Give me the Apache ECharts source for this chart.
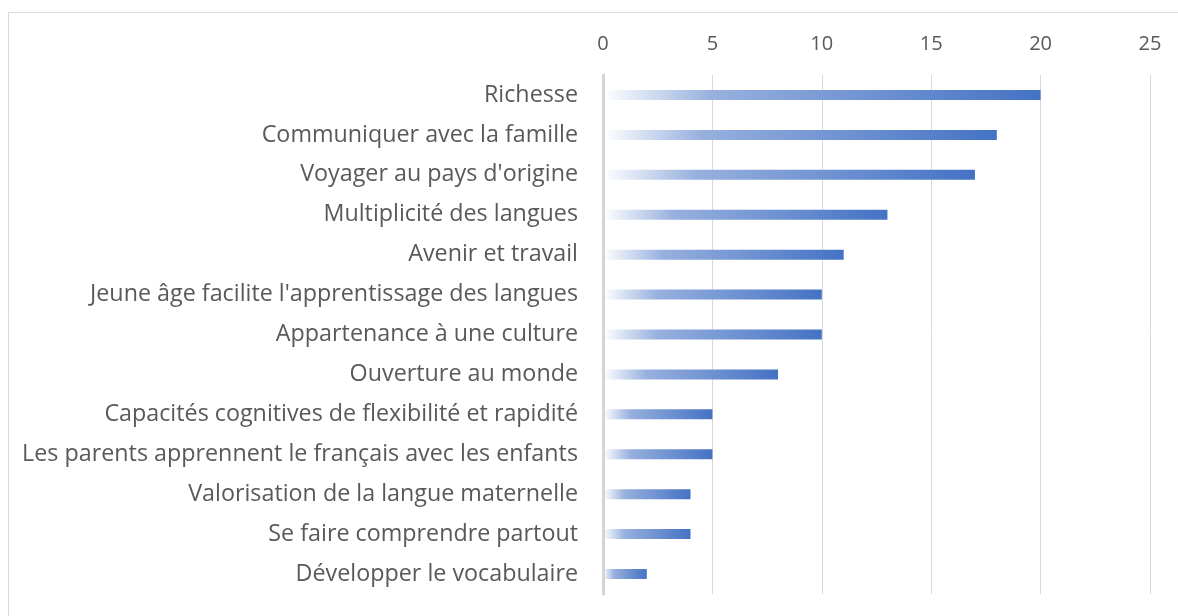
<!DOCTYPE html>
<html>
<head>
<meta charset="utf-8">
<script src="https://cdn.jsdelivr.net/npm/echarts@6/dist/echarts.min.js"></script>
<style>
  html, body { margin: 0; padding: 0; background: #fff; }
  #main { width: 1178px; height: 616px; }
</style>
</head>
<body>
<div id="main"></div>
<script>
var categories = [
  'Richesse',
  'Communiquer avec la famille',
  "Voyager au pays d'origine",
  'Multiplicité des langues',
  'Avenir et travail',
  "Jeune âge facilite l'apprentissage des langues",
  'Appartenance à une culture',
  'Ouverture au monde',
  'Capacités cognitives de flexibilité et rapidité',
  'Les parents apprennent le français avec les enfants',
  'Valorisation de la langue maternelle',
  'Se faire comprendre partout',
  'Développer le vocabulaire'
];
var counts = [20, 18, 17, 13, 11, 10, 10, 8, 5, 5, 4, 4, 2];

var chart = echarts.init(document.getElementById('main'));

// degrade blanc -> bleu sur chaque barre
var barColor = new echarts.graphic.LinearGradient(0, 0, 1, 0, [
  { offset: 0, color: '#ffffff' },
  { offset: 0.25, color: '#97b0de' },
  { offset: 1, color: '#4472c4' }
]);

var option = {
  animation: false,
  graphic: [{
    type: 'rect',
    shape: { x: 8.5, y: 12.5, width: 1200, height: 700 },
    style: { fill: 'none', stroke: '#d9d9d9', lineWidth: 1 }
  }],
  grid: { left: 603, right: 28, top: 75, bottom: 22, containLabel: false },
  xAxis: {
    type: 'value',
    position: 'top',
    min: 0,
    max: 25,
    interval: 5,
    axisLine: { show: false },
    axisTick: { show: false },
    axisLabel: {
      color: '#595959',
      fontSize: 20,
      fontFamily: 'Open Sans',
      margin: 21
    },
    splitLine: { lineStyle: { color: '#d9d9d9', width: 1 } }
  },
  yAxis: {
    type: 'category',
    inverse: true,
    data: categories,
    z: 5,
    axisLine: { show: true, lineStyle: { color: '#d4d4d4', width: 3 } },
    axisTick: { show: false },
    axisLabel: {
      color: '#595959',
      fontSize: 23.3,
      fontFamily: 'Open Sans',
      margin: 25
    }
  },
  series: [{
    type: 'bar',
    data: counts,
    barWidth: 10,
    itemStyle: { color: barColor }
  }]
};

chart.setOption(option);
</script>
</body>
</html>
